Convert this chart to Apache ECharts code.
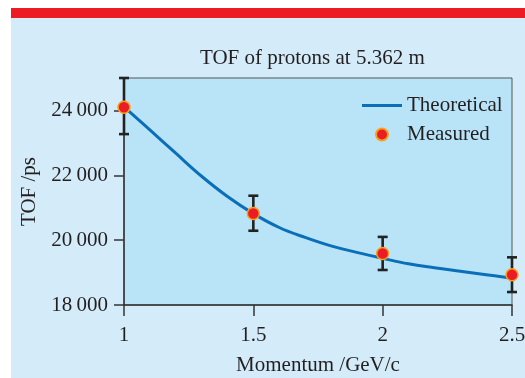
<!DOCTYPE html>
<html>
<head>
<meta charset="utf-8">
<script src="https://cdn.jsdelivr.net/npm/echarts@6/dist/echarts.min.js"></script>
<style>html,body{margin:0;padding:0;background:#fff;}#c{width:525px;height:378px;}</style>
</head>
<body>
<div id="c"></div>
<script>
const titleText = 'TOF of protons at 5.362 m';
const xName = 'Momentum /GeV/c';
const yName = 'TOF /ps';
const xTicks = [1, 1.5, 2, 2.5];
const yTicks = [18000, 20000, 22000, 24000];
const curveP = [1.0, 1.1, 1.2, 1.3, 1.4, 1.5, 1.6, 1.7, 1.8, 1.9, 2.0, 2.1, 2.2, 2.3, 2.4, 2.5];
const curveTOF = [24110, 23400, 22680, 21970, 21345, 20818, 20390, 20083, 19822, 19623, 19440, 19271, 19149, 19041, 18934, 18827];
const measP = [1, 1.5, 2, 2.5];
const measTOF = [24100, 20820, 19590, 18930];
const errLow = [23270, 20290, 19080, 18400];
const errHigh = [25000, 21370, 20100, 19470];

const FONT = 'Liberation Serif';
const TXT = '#231f20';
const chart = echarts.init(document.getElementById('c'), null, {renderer: 'canvas'});
const fmtY = v => String(v).replace(/(\d+)(\d{3})$/, '$1\u2009$2');

chart.setOption({
  backgroundColor: '#ffffff',
  animation: false,
  graphic: [
    {type: 'rect', z: -10, silent: true, shape: {x: 11, y: 8, width: 514, height: 10}, style: {fill: '#ed1c24'}},
    {type: 'rect', z: -10, silent: true, shape: {x: 11, y: 18, width: 514, height: 360}, style: {fill: '#d4ecf9'}}
  ],
  title: {
    text: titleText, left: 200, top: 48, padding: 0,
    textStyle: {fontFamily: FONT, fontSize: 21, fontWeight: 'normal', color: TXT}
  },
  legend: {
    orient: 'vertical', left: 362, top: 95, padding: 0,
    itemWidth: 40, itemHeight: 12, itemGap: 8,
    textStyle: {fontFamily: FONT, fontSize: 21, color: TXT},
    data: [
      {name: 'Theoretical', icon: 'path://M0,0M40,12M0,4.5L40,4.5L40,7.5L0,7.5Z'},
      {name: 'Measured'}
    ]
  },
  grid: {
    left: 124, right: 13, top: 78, bottom: 73, containLabel: false, outerBoundsMode: 'none',
    show: true, backgroundColor: '#b9e4f8', borderColor: '#555', borderWidth: 1
  },
  xAxis: {
    type: 'value', min: 1, max: 2.5, interval: 0.5,
    name: xName, nameLocation: 'middle', nameGap: 50,
    nameTextStyle: {fontFamily: FONT, fontSize: 21, color: TXT},
    axisLine: {show: true, lineStyle: {color: '#333', width: 1.5}},
    axisTick: {show: true, length: 11, lineStyle: {color: '#333', width: 1.5}},
    axisLabel: {margin: 20, fontFamily: FONT, fontSize: 21, color: TXT, formatter: v => String(v)},
    splitLine: {show: false}
  },
  yAxis: {
    type: 'value', min: 18000, max: 25000,
    name: yName, nameLocation: 'middle', nameGap: 84, nameRotate: 90,
    nameTextStyle: {fontFamily: FONT, fontSize: 21, color: TXT},
    axisLine: {show: true, lineStyle: {color: '#333', width: 1.5}},
    axisTick: {show: true, length: 10, customValues: yTicks, lineStyle: {color: '#333', width: 1.5}},
    axisLabel: {margin: 16, fontFamily: FONT, fontSize: 21, color: TXT, customValues: yTicks, formatter: fmtY},
    splitLine: {show: false}
  },
  series: [
    {
      name: 'Theoretical', type: 'line', smooth: 0.4, symbol: 'none',
      data: curveP.map((p, i) => [p, curveTOF[i]]),
      lineStyle: {color: '#0a6fb8', width: 3}, itemStyle: {color: '#0a6fb8'}, z: 2
    },
    {
      name: 'errors', type: 'custom', clip: false, z: 3,
      data: measP.map((p, i) => [p, errLow[i], errHigh[i]]),
      renderItem: (params, api) => {
        const lo = api.coord([api.value(0), api.value(1)]);
        const hi = api.coord([api.value(0), api.value(2)]);
        const hw = 5;
        const st = {stroke: '#222', lineWidth: 2.6};
        return {type: 'group', children: [
          {type: 'line', shape: {x1: lo[0], y1: lo[1], x2: hi[0], y2: hi[1]}, style: st},
          {type: 'line', shape: {x1: lo[0] - hw, y1: lo[1], x2: lo[0] + hw, y2: lo[1]}, style: st},
          {type: 'line', shape: {x1: hi[0] - hw, y1: hi[1], x2: hi[0] + hw, y2: hi[1]}, style: st}
        ]};
      }
    },
    {
      name: 'Measured', type: 'scatter', symbol: 'circle', symbolSize: 12, z: 5,
      data: measP.map((p, i) => [p, measTOF[i]]),
      itemStyle: {color: '#ec1c24', borderColor: '#f7a11a', borderWidth: 1.5, opacity: 1}
    }
  ]
});
</script>
</body>
</html>
